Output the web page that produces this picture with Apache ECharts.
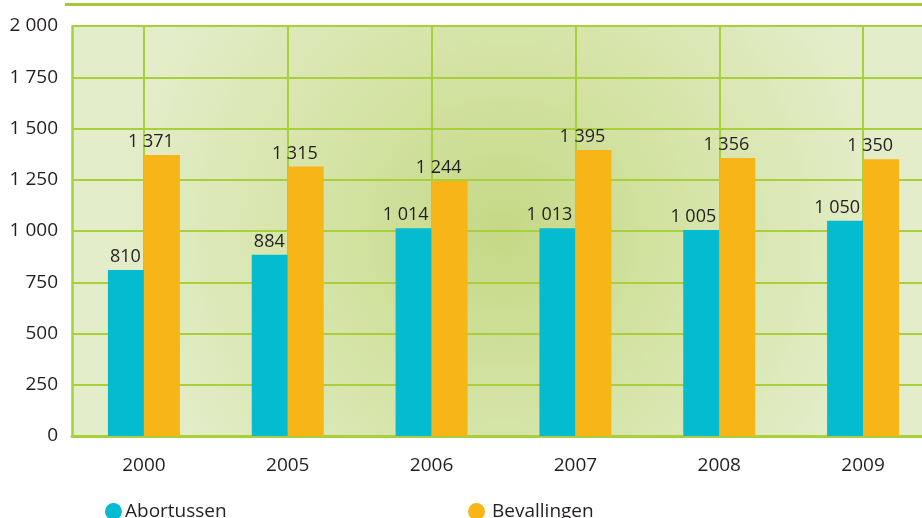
<!DOCTYPE html>
<html>
<head>
<meta charset="utf-8">
<title>Abortussen en bevallingen</title>
<script src="https://cdn.jsdelivr.net/npm/echarts@6/dist/echarts.min.js"></script>
<style>
  html, body { margin: 0; padding: 0; background: #fff; }
  #chart { width: 922px; height: 518px; }
</style>
</head>
<body>
<div id="chart"></div>
<script>
var years = ['2000', '2005', '2006', '2007', '2008', '2009'];
var abortussen = [810, 884, 1014, 1013, 1005, 1050];
var bevallingen = [1371, 1315, 1244, 1395, 1356, 1350];
var yTicks = { min: 0, max: 2000, interval: 250 };

var green = '#a8cf3c';
var font = 'Open Sans';

// 1371 -> "1 371"
function fmt(v) {
    return String(v).replace(/\B(?=(\d{3})+(?!\d))/g, ' ');
}

var chart = echarts.init(document.getElementById('chart'));
chart.setOption({
    backgroundColor: '#fff',
    textStyle: { fontFamily: font },
    graphic: [{
        type: 'rect',
        shape: { x: 65, y: 3, width: 860, height: 3 },
        style: { fill: '#a2c83a' },
        silent: true
    }],
    grid: {
        left: 72,
        right: -13,
        top: 26,
        bottom: 82,
        outerBoundsMode: 'none',
        containLabel: false,
        show: true,
        borderWidth: 0,
        backgroundColor: {
            type: 'radial', x: 0.5, y: 0.5, r: 0.95,
            colorStops: [
                { offset: 0, color: '#c5d886' },
                { offset: 0.45, color: '#d4e3a4' },
                { offset: 1, color: '#e4edca' }
            ]
        }
    },
    legend: [{
        data: ['Abortussen'],
        left: 100, top: 497,
        icon: 'circle', itemWidth: 17, itemHeight: 17, itemGap: 4,
        textStyle: { fontFamily: font, fontSize: 19, color: '#231f20', padding: [0, 0, 0, -2] }
    }, {
        data: ['Bevallingen'],
        left: 463, top: 497,
        icon: 'circle', itemWidth: 17, itemHeight: 17, itemGap: 4,
        textStyle: { fontFamily: font, fontSize: 19, color: '#231f20', padding: [0, 0, 0, 2] }
    }],
    xAxis: {
        type: 'category',
        data: years,
        axisLine: { lineStyle: { color: green, width: 3 } },
        axisTick: { show: false },
        axisLabel: { fontFamily: font, fontSize: 19, color: '#231f20', margin: 20 },
        splitLine: { show: true, alignWithLabel: true, lineStyle: { color: green, width: 2 } }
    },
    yAxis: {
        type: 'value',
        min: yTicks.min,
        max: yTicks.max,
        interval: yTicks.interval,
        axisLine: { show: true, lineStyle: { color: green, width: 2.5 } },
        axisTick: { show: false },
        axisLabel: { fontFamily: font, fontSize: 19, color: '#231f20', margin: 14, formatter: fmt },
        splitLine: { lineStyle: { color: green, width: 2 } }
    },
    series: [{
        name: 'Abortussen',
        type: 'bar',
        data: abortussen,
        barWidth: 36,
        barGap: '0%',
        itemStyle: { color: '#05bbd0' },
        label: {
            show: true, position: 'top', align: 'right', offset: [15, 0], distance: 4,
            fontFamily: font, fontSize: 18, color: '#231f20', formatter: function (p) { return fmt(p.value); }
        }
    }, {
        name: 'Bevallingen',
        type: 'bar',
        data: bevallingen,
        barWidth: 36,
        barGap: '0%',
        itemStyle: { color: '#f8b518' },
        label: {
            show: true, position: 'top', align: 'right', offset: [12, 0], distance: 4,
            fontFamily: font, fontSize: 18, color: '#231f20', formatter: function (p) { return fmt(p.value); }
        }
    }]
});
</script>
</body>
</html>
